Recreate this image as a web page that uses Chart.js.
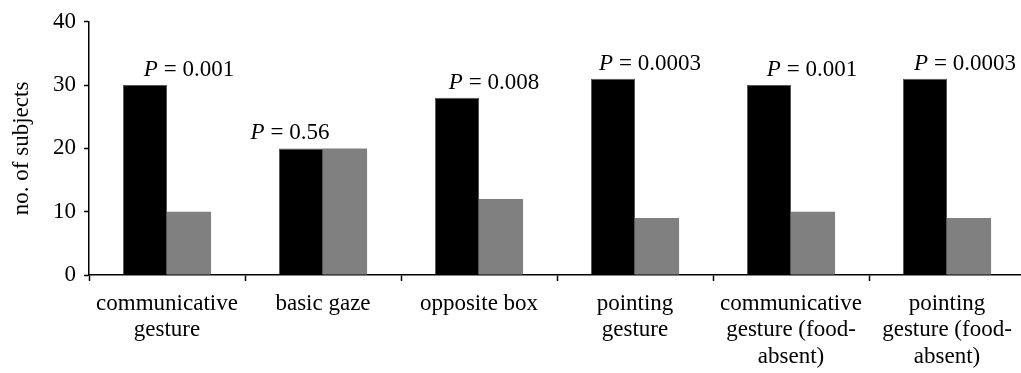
<!DOCTYPE html>
<html>
<head>
<meta charset="utf-8">
<script src="https://cdn.jsdelivr.net/npm/chart.js@4"></script>
<style>
  html, body { margin: 0; padding: 0; background: #fff; overflow: hidden; }
  #wrap { width: 1030px; height: 373px; }
</style>
</head>
<body>
<div id="wrap"><canvas id="myChart"></canvas></div>
<script>
const categories = [
    ['communicative', 'gesture'],
    ['basic gaze'],
    ['opposite box'],
    ['pointing', 'gesture'],
    ['communicative', 'gesture (food-', 'absent)'],
    ['pointing', 'gesture (food-', 'absent)']
];
const blackValues = [30, 20, 28, 31, 30, 31];
const grayValues = [10, 20, 12, 9, 10, 9];
const pValues = ['0.001', '0.56', '0.008', '0.0003', '0.001', '0.0003'];
// shift of each P label from the category centre (px)
const labelShift = [22, -33, 15, 15, 21, 18];

const serif = '"Liberation Serif", "Times New Roman", serif';

// P = ... labels above each pair of bars
const pLabels = {
    id: 'pLabels',
    afterDatasetsDraw(chart) {
        const ctx = chart.ctx;
        const x = chart.scales.x, y = chart.scales.y;
        ctx.save();
        ctx.fillStyle = '#000';
        ctx.textBaseline = 'alphabetic';
        pValues.forEach((p, i) => {
            const top = y.getPixelForValue(Math.max(blackValues[i], grayValues[i]));
            const cx = x.getPixelForValue(i) + labelShift[i];
            ctx.font = 'italic 23px ' + serif;
            const wP = ctx.measureText('P').width;
            ctx.font = '23px ' + serif;
            const rest = ' = ' + p;
            const wR = ctx.measureText(rest).width;
            const left = cx - (wP + wR) / 2;
            const base = top - 9;
            ctx.font = 'italic 23px ' + serif;
            ctx.fillText('P', left, base);
            ctx.font = '23px ' + serif;
            ctx.fillText(rest, left + wP, base);
        });
        ctx.restore();
    }
};

new Chart(document.getElementById('myChart').getContext('2d'), {
    type: 'bar',
    data: {
        labels: categories,
        datasets: [{
            data: blackValues,
            backgroundColor: '#000000',
            borderColor: '#555555',
            borderWidth: 1
        }, {
            data: grayValues,
            backgroundColor: '#808080'
        }]
    },
    options: {
        responsive: true,
        maintainAspectRatio: false,
        animation: false,
        layout: { padding: { top: 18, right: 5, bottom: 0, left: 0 } },
        plugins: {
            legend: { display: false },
            tooltip: { enabled: false }
        },
        datasets: {
            bar: { categoryPercentage: 0.565, barPercentage: 1.0 }
        },
        scales: {
            x: {
                grid: {
                    display: true,
                    drawOnChartArea: false,
                    drawTicks: true,
                    tickLength: 6,
                    tickWidth: 1.5,
                    color: '#000'
                },
                border: { color: '#000', width: 1.5 },
                ticks: {
                    color: '#000',
                    font: { family: serif, size: 23, lineHeight: 1.17 },
                    maxRotation: 0,
                    autoSkip: false,
                    padding: 9
                },
                afterFit(scale) { scale.height = 98; }
            },
            y: {
                min: 0,
                max: 40,
                ticks: {
                    stepSize: 10,
                    color: '#000',
                    font: { family: serif, size: 23 },
                    padding: 8
                },
                grid: {
                    display: true,
                    drawOnChartArea: false,
                    drawTicks: true,
                    tickLength: 5,
                    tickWidth: 1.5,
                    color: '#000'
                },
                border: { color: '#000', width: 1.5 },
                title: {
                    display: true,
                    text: 'no. of subjects',
                    color: '#000',
                    font: { family: serif, size: 23 },
                    padding: { top: 8, bottom: 8 }
                },
                afterFit(scale) { scale.width = 89; }
            }
        }
    },
    plugins: [pLabels]
});
</script>
</body>
</html>
